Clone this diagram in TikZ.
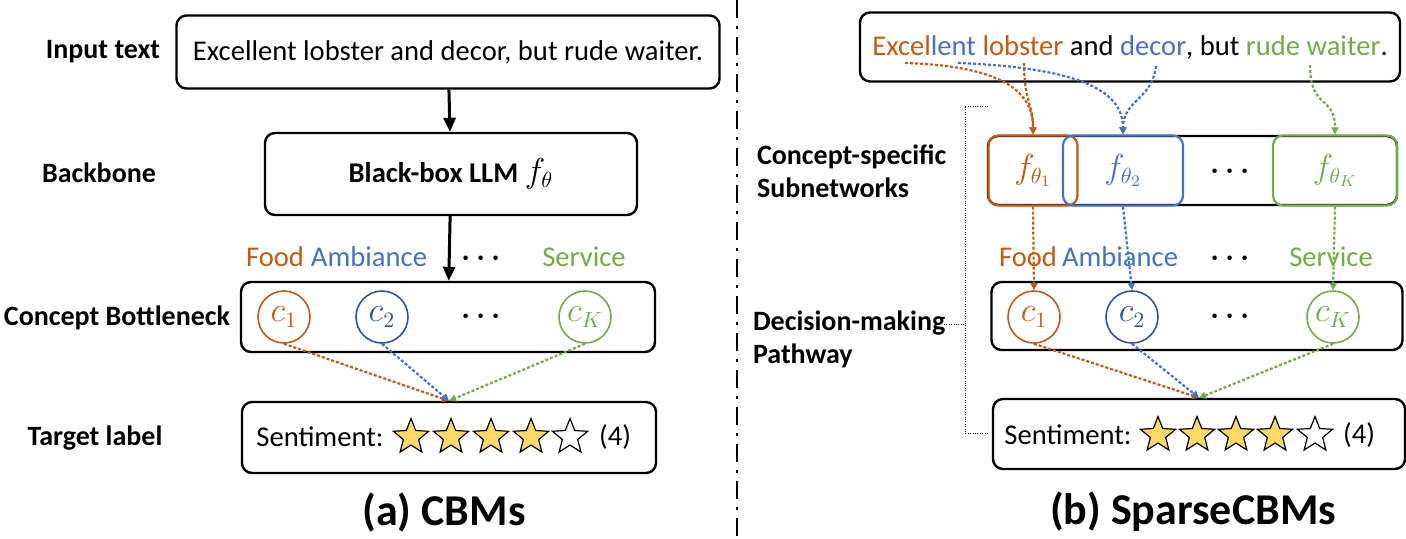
\documentclass[tikz,border=0pt]{standalone}
\usepackage{fontspec}
\setmainfont{Carlito}
\usepackage{amsmath}
\usepackage{tikz}
\usetikzlibrary{arrows.meta, positioning, shapes.geometric}
\definecolor{foodOrange}{RGB}{197,90,17}
\definecolor{ambBlue}{RGB}{68,114,196}
\definecolor{darkBlue}{RGB}{47,85,151}
\definecolor{servGreen}{RGB}{112,173,71}
\definecolor{starYellow}{RGB}{255,217,102}
\tikzset{
  box/.style={draw, line width=1.2pt, rounded corners=5pt, inner sep=0pt},
  rowname/.style={font=\fontsize{14}{16.5}\selectfont\bfseries},
  concept/.style={draw, circle, line width=0.8pt, minimum size=26pt, inner sep=0pt, font=\fontsize{16}{18}\selectfont},
  subnet/.style={draw, line width=1.1pt, rounded corners=5pt, minimum height=35pt, font=\fontsize{16}{18}\selectfont},
  starOn/.style={star, star points=5, star point ratio=2.3, minimum size=18.5pt, inner sep=0pt, draw=black, line width=0.6pt, fill=starYellow},
  starOff/.style={starOn, fill=white},
  mainArrow/.style={-{Triangle[length=7pt, width=6pt]}, line width=1.5pt},
  flowArrow/.style={-{Triangle[length=3.5pt, width=3.5pt]}, line width=1.1pt, dash pattern=on 1.5pt off 1pt},
  bracket/.style={line width=0.5pt, dash pattern=on 0.5pt off 0.7pt},
  caption/.style={font=\fontsize{22}{26}\selectfont\bfseries},
}

\begin{document}
\begin{tikzpicture}[x=0.5pt, y=-0.5pt, font=\fontsize{14.3}{17}\selectfont]
    \useasboundingbox (0,0) rectangle (1406,538);

    % (a) CBMs
    \node[rowname] (lInName) at (103,52) {Input text};
    \node[box, minimum width=271.5pt, minimum height=36.5pt] (lIn) at (448,52) {Excellent lobster and decor, but rude waiter.};
    \node[rowname] (lBbName) at (99,173) {Backbone};
    \node[box, minimum width=186pt, minimum height=41pt, font=\fontsize{14.3}{17}\selectfont\bfseries] (lLlm) at (451,174) {Black-box LLM {\fontsize{16}{18}\selectfont$f_\theta$}};
    \node[rowname] (lCbName) at (117,318) {Concept Bottleneck};
    \node[box, minimum width=207pt, minimum height=35pt] (lCb) at (448,317) {};
    \node[rowname] (lTlName) at (95,438) {Target label};
    \node[box, minimum width=207pt, minimum height=35.5pt] (lT) at (449,437.5) {};

    \node[foodOrange] (lFood) at (275,257) {Food}; \node[ambBlue] (lAmb) at (369,257) {Ambiance};
    \node (lDotsA) at (484,259) {$\boldsymbol{\cdots}$}; \node[servGreen] (lServ) at (584,257) {Service};

    \node[concept, foodOrange] (lc1) at (284,317) {$c_1$}; \node[concept, darkBlue] (lc2) at (382,317) {$c_2$};
    \node (lDotsB) at (484,317) {$\boldsymbol{\cdots}$}; \node[concept, servGreen] (lcK) at (585,317) {$c_K$};

    \node (lSent) at (320,437) {Sentiment:};
    \node[starOn] (ls1) at (411,437) {}; \node[starOn] (ls2) at (451,437) {}; \node[starOn] (ls3) at (491,437) {};
    \node[starOn] (ls4) at (531,437) {}; \node[starOff] (ls5) at (570,437) {};
    \node (lScore) at (615,437) {(4)};
    \node[caption] (lCap) at (444,512) {(a) CBMs};

    % Arrows
    \draw[mainArrow] (lIn) -- (lLlm);
    \draw[mainArrow] (lLlm) -- (lCb);
    \draw[flowArrow, foodOrange] (lc1.south) -- (lT.north);
    \draw[flowArrow, ambBlue] (lc2.south) -- (lT.north);
    \draw[flowArrow, servGreen] (lcK.south) -- (lT.north);

    % Divider
    \draw[line width=0.9pt, dash pattern=on 9pt off 4pt on 1.5pt off 4pt] (737,0) -- (737,538);

    % (b) SparseCBMs
    \node[box, minimum width=270pt, minimum height=34.5pt] (rIn) at (1130,47) {{\color{foodOrange}Excel}{\color{ambBlue}lent} {\color{foodOrange}lobster} and {\color{ambBlue}decor}, but {\color{servGreen}rude waiter}.};
    \coordinate (wExcel) at (905,63); \coordinate (wLent) at (958,63); \coordinate (wLobster) at (1024,63);
    \coordinate (wDecor) at (1156,66); \coordinate (wWaiter) at (1310,65);

    \node[rowname, align=left, anchor=west] (rSubName) at (750,171) {Concept-specific\\Subnetworks};
    \node[box, minimum width=204.5pt, minimum height=34.5pt] (rSub) at (1192.5,170.5) {};
    \node[subnet, foodOrange, minimum width=44.5pt] (f1) at (1033,170.5) {$f_{\theta_1}$};
    \node[subnet, ambBlue, minimum width=60pt] (f2) at (1123,170.5) {$f_{\theta_2}$};
    \node (rDotsA) at (1233,172) {$\boldsymbol{\cdots}$};
    \node[subnet, servGreen, minimum width=62pt] (fK) at (1335,170.5) {$f_{\theta_K}$};

    \node[foodOrange] (rFood) at (1028,257) {Food}; \node[ambBlue] (rAmb) at (1120,257) {Ambiance};
    \node (rDotsB) at (1233,259) {$\boldsymbol{\cdots}$}; \node[servGreen] (rServ) at (1331,257) {Service};

    \node[rowname, align=left, anchor=west] (rDmName) at (746,339) {Decision-making\\Pathway};
    \node[box, minimum width=205.5pt, minimum height=34pt] (rCb) at (1197,316) {};
    \node[concept, foodOrange] (rc1) at (1034,317) {$c_1$}; \node[concept, darkBlue] (rc2) at (1132,317) {$c_2$};
    \node (rDotsC) at (1233,317) {$\boldsymbol{\cdots}$}; \node[concept, servGreen] (rcK) at (1333,317) {$c_K$};

    \node[box, minimum width=206pt, minimum height=35pt] (rT) at (1199,434) {};
    \node (rSent) at (1068,435) {Sentiment:};
    \node[starOn] (rs1) at (1158,435) {}; \node[starOn] (rs2) at (1197,435) {}; \node[starOn] (rs3) at (1236,435) {};
    \node[starOn] (rs4) at (1275,435) {}; \node[starOff] (rs5) at (1315,435) {};
    \node (rScore) at (1359,435) {(4)};
    \node[caption] (rCap) at (1193,512) {(b) SparseCBMs};

    % Arrows
    \draw[flowArrow, foodOrange] (wExcel) .. controls (1000,66) and (1033,90) .. (f1.north);
    \draw[flowArrow, foodOrange] (wLobster) .. controls (1024,100) and (1033,105) .. (f1.north);
    \draw[flowArrow, ambBlue] (wLent) .. controls (1090,68) and (1123,95) .. (f2.north);
    \draw[flowArrow, ambBlue] (wDecor) .. controls (1152,100) and (1123,100) .. (f2.north);
    \draw[flowArrow, servGreen] (wWaiter) .. controls (1310,110) and (1335,95) .. (fK.north);
    \draw[flowArrow, foodOrange] (f1.south) -- (rc1.north);
    \draw[flowArrow, ambBlue] (f2.south) -- (rc2.north);
    \draw[flowArrow, servGreen] (fK.south) -- (rcK.north);
    \draw[flowArrow, foodOrange] (rc1.south) -- (rT.north);
    \draw[flowArrow, ambBlue] (rc2.south) -- (rT.north);
    \draw[flowArrow, servGreen] (rcK.south) -- (rT.north);

    % Bracket
    \coordinate (brTop) at (988,106); \coordinate (brMid) at (965,324); \coordinate (brBot) at (989,433);
    \coordinate (dmTick) at (944,324);
    \draw[bracket] (brTop) -| (brMid) |- (brBot);
    \draw[bracket] (dmTick) -- (brMid);
\end{tikzpicture}
\end{document}
